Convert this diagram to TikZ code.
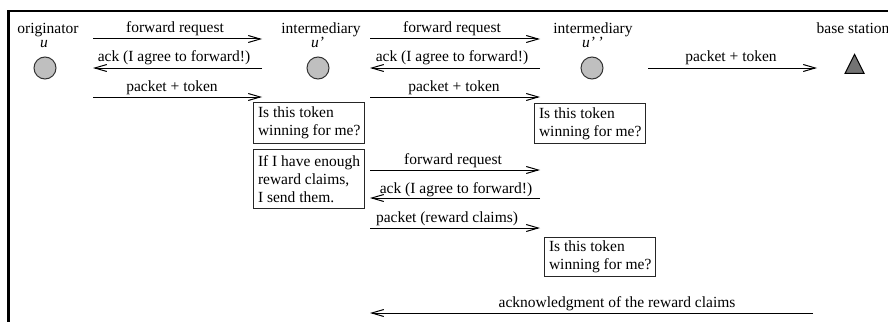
\documentclass[tikz,border=0pt]{standalone}
\usepackage{fontspec}
\setmainfont{Liberation Serif}
\usetikzlibrary{arrows.meta,shapes.geometric}
\begin{document}
\begin{tikzpicture}[x=1pt,y=-1pt,
  every node/.style={font=\fontsize{15.5}{18}\selectfont, inner sep=0pt},
  msg/.style={line width=1pt, -{Straight Barb[length=12pt,width=7pt,line width=1pt]}},
  lbl/.style={anchor=base},
  peer/.style={circle, draw=black!80, fill=black!25, line width=1pt, minimum size=22pt},
  bsnode/.style={isosceles triangle, isosceles triangle apex angle=53.13, shape border rotate=90,
    draw=black, fill=black!55, line width=1pt, minimum height=19pt},
  qbox/.style={draw=black!85, line width=1pt, anchor=north west, align=left,
    inner xsep=4.5pt, inner ysep=0pt},
]
\useasboundingbox (0,0) rectangle (888,321);
\clip (0,0) rectangle (888,321);
% frame
\draw[line width=2.5pt] (8.5,330) -- (8.5,11) -- (900,11);

% participants
\node[peer] (u) at (45,68) {};
\node[lbl] (ut) at (48,34) {originator};
\node[lbl] (un) at (44,48) {\itshape u};
\node[peer] (u1) at (318,68) {};
\node[lbl] (u1t) at (321,34) {intermediary};
\node[lbl] (u1n) at (317.5,48) {\itshape u\textquoteright};
\node[peer] (u2) at (592,68) {};
\node[lbl] (u2t) at (593,34) {intermediary};
\node[lbl] (u2n) at (592.5,48) {\itshape u\textquoteright\,\textquoteright};
\node[bsnode] (bs) at (854.5,67.5) {};
\node[lbl] (bst) at (853,34) {base station};

% endpoints
\coordinate (s1a) at (93,39);  \coordinate (s1b) at (262,39);
\coordinate (s1c) at (93,68);  \coordinate (s1d) at (262,68);
\coordinate (s1e) at (93,97);  \coordinate (s1f) at (262,97);
\coordinate (s2a) at (370,39); \coordinate (s2b) at (540,39);
\coordinate (s2c) at (370,68); \coordinate (s2d) at (540,68);
\coordinate (s2e) at (370,97); \coordinate (s2f) at (540,97);
\coordinate (s3a) at (648,68); \coordinate (s3b) at (817,68);
\coordinate (m1a) at (370,170); \coordinate (m1b) at (540,170);
\coordinate (m2a) at (370,198); \coordinate (m2b) at (540,198);
\coordinate (m3a) at (370,228); \coordinate (m3b) at (540,228);
\coordinate (zb) at (813,313); \coordinate (za) at (370,313);

% messages u -> u'
\draw[msg] (s1a) -- (s1b);
\node[lbl] (l1) at (175,33) {forward request};
\draw[msg] (s1d) -- (s1c);
\node[lbl] (l2) at (174,62) {ack (I agree to forward!)};
\draw[msg] (s1e) -- (s1f);
\node[lbl] (l3) at (172,91) {packet + token};

% messages u' -> u''
\draw[msg] (s2a) -- (s2b);
\node[lbl] (l4) at (452,33) {forward request};
\draw[msg] (s2d) -- (s2c);
\node[lbl] (l5) at (452,62) {ack (I agree to forward!)};
\draw[msg] (s2e) -- (s2f);
\node[lbl] (l6) at (454,91) {packet + token};

% u'' -> base station
\draw[msg] (s3a) -- (s3b);
\node[lbl] (l7) at (731,62) {packet + token};

% boxes
\node[qbox, minimum height=41pt] (q1) at (253,102) {Is this token\\winning for me?};
\node[qbox, minimum height=59pt] (q2) at (253,149) {If I have enough\\reward claims,\\I send them.};
\node[qbox, minimum height=40pt] (q3) at (534,103) {Is this token\\winning for me?};
\node[qbox, minimum height=39pt] (q4) at (544,237) {Is this token\\winning for me?};

% reward claims exchange
\draw[msg] (m1a) -- (m1b);
\node[lbl] (l8) at (453,164) {forward request};
\draw[msg] (m2b) -- (m2a);
\node[lbl] (l9) at (456,193) {ack (I agree to forward!)};
\draw[msg] (m3a) -- (m3b);
\node[lbl] (l10) at (447,222) {packet (reward claims)};

\draw[msg] (zb) -- (za);
\node[lbl] (l11) at (617,307) {acknowledgment of the reward claims};
\end{tikzpicture}
\end{document}
